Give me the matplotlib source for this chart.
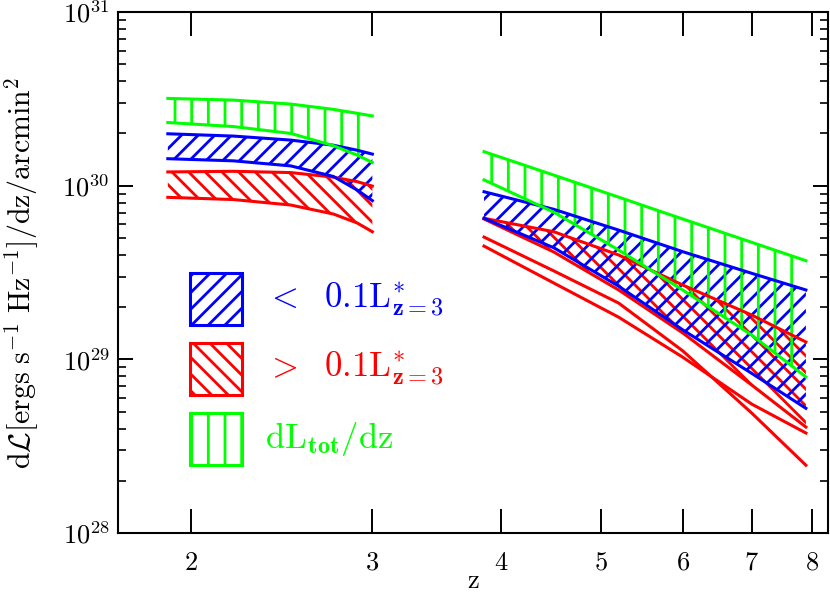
import matplotlib
matplotlib.use("Agg")
import matplotlib.pyplot as plt
from matplotlib.patches import Rectangle
from matplotlib.ticker import LogLocator, NullLocator, FixedLocator, NullFormatter

plt.rcParams['mathtext.fontset'] = 'cm'
plt.rcParams['font.family'] = 'serif'
plt.rcParams['font.serif'] = ['DejaVu Serif']
plt.rcParams['hatch.linewidth'] = 2.0

# low-z group (units of erg/s/Hz/dz/arcmin^2)
z_lo = [1.9, 2.2, 2.5, 2.75, 2.9, 3.0]
tot_lo_top = [3.18e30, 3.11e30, 2.95e30, 2.75e30, 2.61e30, 2.52e30]
tot_lo_bot = [2.31e30, 2.19e30, 2.00e30, 1.70e30, 1.50e30, 1.36e30]
faint_lo_top = [1.99e30, 1.93e30, 1.83e30, 1.71e30, 1.60e30, 1.52e30]
faint_lo_bot = [1.43e30, 1.39e30, 1.30e30, 1.13e30, 0.944e30, 0.82e30]
bright_lo_top = [1.20e30, 1.21e30, 1.19e30, 1.12e30, 1.055e30, 0.995e30]
bright_lo_bot = [0.857e30, 0.832e30, 0.774e30, 0.687e30, 0.610e30, 0.543e30]

# high-z group
z_hi = [3.85, 4.5, 5.2, 6.0, 7.0, 7.9]
tot_hi_top = [15.7e29, 11.5e29, 8.59e29, 6.43e29, 4.72e29, 3.70e29]
tot_hi_bot = [10.8e29, 7.03e29, 4.26e29, 2.51e29, 1.38e29, 0.793e29]
faint_hi_top = [9.23e29, 7.31e29, 5.55e29, 4.17e29, 3.13e29, 2.51e29]
faint_hi_bot = [6.49e29, 4.39e29, 2.64e29, 1.48e29, 0.831e29, 0.523e29]
bright_hi_top = [6.49e29, 5.43e29, 3.99e29, 2.68e29, 1.80e29, 1.26e29]
bright_hi_p = [6.43e29, 4.15e29, 2.51e29, 1.42e29, 0.712e29, 0.408e29]
bright_hi_q = [5.06e29, 3.23e29, 2.11e29, 1.12e29, 0.491e29, 0.246e29]
bright_hi_r = [4.49e29, 2.75e29, 1.75e29, 1.03e29, 0.553e29, 0.377e29]

xticks = [2, 3, 4, 5, 6, 7, 8]
xticklabels = ['$2$', '$3$', '$4$', '$5$', '$6$', '$7$', '$8$']
yticks = [1e28, 1e29, 1e30, 1e31]
yticklabels = ['$10^{28}$', '$10^{29}$', '$10^{30}$', '$10^{31}$']

blue = '#0000ff'
red = '#ff0000'
green = '#00ff00'
lw = 2.2

fig = plt.figure(figsize=(8.3, 5.99), dpi=100)
ax = fig.add_axes([0.1422, 0.110, 0.8554, 0.870])
ax.set_xscale('log')
ax.set_yscale('log')
ax.set_xlim(1.7, 8.3)
ax.set_ylim(1e28, 1e31)

# red (bright) bands
ax.fill_between(z_lo, bright_lo_bot, bright_lo_top, facecolor='none',
                edgecolor=red, hatch='\\\\', linewidth=0)
ax.fill_between(z_hi, bright_hi_p, bright_hi_top, facecolor='none',
                edgecolor=red, hatch='\\\\', linewidth=0)
for y in (bright_lo_top, bright_lo_bot):
    ax.plot(z_lo, y, color=red, lw=lw)
for y in (bright_hi_top, bright_hi_p, bright_hi_q, bright_hi_r):
    ax.plot(z_hi, y, color=red, lw=lw)

# blue (faint) bands
ax.fill_between(z_lo, faint_lo_bot, faint_lo_top, facecolor='none',
                edgecolor=blue, hatch='//', linewidth=0)
ax.fill_between(z_hi, faint_hi_bot, faint_hi_top, facecolor='none',
                edgecolor=blue, hatch='//', linewidth=0)
for z, y in ((z_lo, faint_lo_top), (z_lo, faint_lo_bot),
             (z_hi, faint_hi_top), (z_hi, faint_hi_bot)):
    ax.plot(z, y, color=blue, lw=lw)

# green (total) bands
ax.fill_between(z_lo, tot_lo_bot, tot_lo_top, facecolor='none',
                edgecolor=green, hatch='|', linewidth=0)
ax.fill_between(z_hi, tot_hi_bot, tot_hi_top, facecolor='none',
                edgecolor=green, hatch='|', linewidth=0)
for z, y in ((z_lo, tot_lo_top), (z_lo, tot_lo_bot),
             (z_hi, tot_hi_top), (z_hi, tot_hi_bot)):
    ax.plot(z, y, color=green, lw=lw)

# key
keys = [(0.399, blue, '//', r'$<\ \ 0.1\mathrm{L}^{*}_{\mathbf{z=3}}$'),
        (0.265, red, '\\\\', r'$>\ \ 0.1\mathrm{L}^{*}_{\mathbf{z=3}}$'),
        (0.1305, green, '|', r'$\mathrm{dL}_{\mathbf{tot}}\mathrm{/dz}$')]
for y0, c, h, lab in keys:
    ax.add_patch(Rectangle((0.1014, y0), 0.0732, 0.100, transform=ax.transAxes,
                           facecolor='none', edgecolor=c, hatch=h, lw=lw))
    ax.text(0.207, y0 + 0.05, lab, transform=ax.transAxes, color=c,
            fontsize=25, va='center', ha='left')

ax.xaxis.set_major_locator(FixedLocator(xticks))
ax.xaxis.set_minor_locator(NullLocator())
ax.set_xticklabels(xticklabels)
ax.yaxis.set_major_locator(FixedLocator(yticks))
ax.set_yticklabels(yticklabels)
ax.yaxis.set_minor_locator(LogLocator(base=10, subs=range(2, 10)))
ax.yaxis.set_minor_formatter(NullFormatter())

ax.tick_params(axis='x', which='major', direction='in', top=True, length=17,
               width=1.4, labelsize=19, pad=12)
ax.tick_params(axis='y', which='major', direction='in', right=True, length=11,
               width=1.4, labelsize=19, pad=6)
ax.tick_params(axis='y', which='minor', direction='in', right=True, length=6,
               width=1.2)
for s in ax.spines.values():
    s.set_linewidth(1.5)

ax.set_xlabel('$\\mathrm{z}$', fontsize=19)
ax.xaxis.set_label_coords(0.5, -0.066)
ax.set_ylabel(r'$\mathrm{d}\mathcal{L}[\mathrm{ergs\ s^{-1}\ Hz^{-1}}]/\mathrm{dz/arcmin^{2}}$',
              fontsize=21.5)
ax.yaxis.set_label_coords(-0.108, 0.5)

fig.savefig('out.png', dpi=100)
